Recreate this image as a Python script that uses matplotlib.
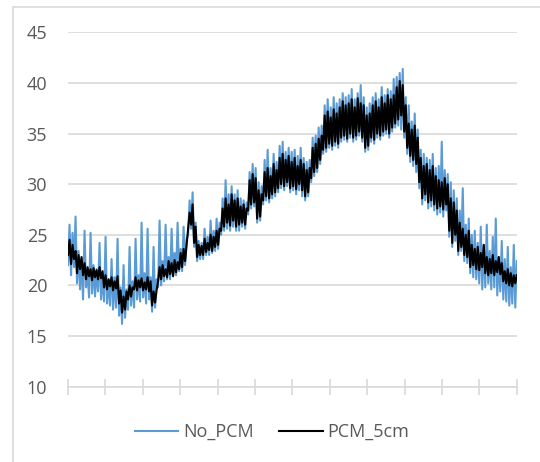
import numpy as np
import matplotlib
matplotlib.use("Agg")
import matplotlib.pyplot as plt
from matplotlib.patches import Rectangle

plt.rcParams['font.family'] = ['Open Sans', 'DejaVu Sans']

# readings along the time axis (300 samples, noisy)
no_pcm = [
    22.0, 26.0, 21.0, 25.2, 21.8, 26.8, 20.2, 23.4, 19.6, 22.6, 18.6, 25.4, 19.8, 21.4, 18.8, 25.2, 19.2, 22.0, 18.9, 21.6,
    19.4, 24.2, 18.6, 21.0, 18.4, 24.8, 18.2, 20.6, 18.0, 22.6, 17.6, 20.8, 17.8, 24.6, 17.0, 19.8, 16.2, 22.0, 16.8, 19.6,
    17.6, 23.8, 18.0, 20.4, 17.8, 24.6, 18.6, 21.0, 18.4, 26.2, 18.8, 21.2, 18.2, 25.6, 18.6, 20.8, 17.4, 23.8, 17.8, 20.6,
    19.8, 26.4, 20.0, 22.4, 20.4, 26.0, 20.6, 22.8, 20.6, 25.6, 21.0, 23.2, 21.0, 26.2, 21.4, 23.6, 21.4, 25.8, 22.0, 24.6,
    25.0, 28.4, 25.6, 29.2, 23.8, 26.2, 22.4, 24.4, 22.6, 24.2, 22.6, 25.6, 23.0, 24.8, 23.0, 26.4, 23.2, 25.4, 23.4, 26.6,
    23.6, 26.2, 25.0, 28.6, 25.4, 30.4, 25.6, 29.0, 25.4, 29.8, 25.8, 29.0, 25.4, 29.4, 25.4, 28.6, 25.8, 28.4, 25.6, 28.2,
    27.0, 31.2, 27.6, 32.0, 27.8, 31.6, 26.2, 30.2, 26.4, 29.8, 28.0, 32.4, 28.4, 33.4, 28.2, 31.6, 28.6, 33.0, 28.8, 32.2,
    29.2, 33.8, 29.6, 34.2, 29.4, 33.2, 29.8, 33.6, 29.2, 33.2, 29.4, 33.4, 29.0, 32.8, 29.4, 33.6, 28.8, 32.6, 28.4, 32.2,
    28.8, 32.4, 30.2, 34.6, 30.8, 34.8, 31.2, 35.6, 32.0, 35.8, 33.0, 37.8, 33.2, 38.4, 33.6, 37.6, 33.4, 38.6, 33.8, 38.0,
    33.6, 38.4, 34.2, 39.0, 34.4, 38.6, 34.2, 38.8, 34.6, 39.4, 34.2, 38.4, 34.4, 39.0, 34.8, 39.8, 34.2, 38.6, 33.2, 37.6,
    33.4, 38.0, 34.2, 38.6, 34.0, 39.0, 34.6, 38.4, 34.4, 39.6, 34.8, 38.8, 35.0, 39.4, 34.6, 39.2, 35.2, 40.4, 35.6, 40.6,
    35.8, 41.0, 35.4, 41.4, 34.6, 38.6, 33.0, 37.8, 32.2, 36.2, 31.8, 37.0, 31.2, 35.4, 29.6, 33.4, 28.0, 33.0, 28.4, 32.6,
    27.6, 32.4, 27.8, 33.0, 27.4, 31.6, 27.0, 31.8, 27.2, 34.2, 26.8, 31.4, 27.4, 31.0, 24.8, 30.2, 23.8, 29.4, 24.4, 28.6,
    23.0, 27.4, 23.4, 29.6, 22.4, 26.0, 22.2, 26.6, 21.2, 25.0, 20.8, 25.4, 20.6, 24.2, 20.2, 25.8, 19.6, 24.0, 19.8, 26.0,
    20.2, 23.4, 19.6, 24.8, 19.8, 26.6, 19.0, 22.8, 19.4, 24.4, 18.6, 22.6, 18.4, 23.8, 18.0, 21.8, 18.2, 24.0, 17.8, 22.4,
]

pcm_5cm = [
    23.0, 24.5, 22.1, 24.0, 22.6, 23.4, 21.2, 23.0, 21.6, 22.8, 21.0, 22.2, 20.6, 21.8, 20.9, 21.6, 20.5, 21.7, 20.8, 21.5,
    20.6, 21.8, 20.7, 21.4, 19.8, 21.0, 19.6, 20.6, 19.9, 20.8, 19.5, 20.4, 19.7, 20.9, 18.2, 19.5, 17.3, 18.9, 17.6, 19.4,
    18.6, 20.0, 18.9, 19.8, 19.6, 20.8, 19.5, 20.5, 19.8, 20.7, 19.5, 20.3, 19.6, 20.8, 19.4, 20.4, 18.0, 19.4, 18.3, 19.5,
    20.4, 21.8, 20.6, 22.0, 20.9, 21.6, 20.8, 22.4, 21.1, 22.2, 20.9, 22.5, 21.3, 22.3, 21.6, 23.2, 21.8, 23.6, 22.4, 24.0,
    25.6, 27.2, 26.0, 28.0, 24.2, 25.8, 22.8, 24.0, 23.0, 23.9, 23.0, 24.6, 23.3, 24.2, 23.5, 25.0, 23.4, 24.8, 23.8, 25.4,
    24.0, 25.6, 25.4, 27.6, 25.8, 28.6, 26.2, 28.0, 25.9, 29.0, 26.4, 28.4, 25.8, 28.6, 26.0, 27.8, 26.2, 28.0, 26.0, 27.6,
    27.4, 30.4, 28.0, 31.0, 28.2, 30.6, 26.6, 29.4, 26.8, 29.0, 28.4, 31.2, 28.8, 31.6, 28.6, 30.8, 29.0, 32.0, 29.2, 31.4,
    29.6, 32.6, 30.0, 33.0, 29.8, 32.4, 30.2, 32.8, 29.6, 32.2, 29.8, 32.6, 29.5, 31.8, 30.0, 32.4, 29.4, 32.0, 28.8, 31.4,
    29.2, 31.6, 30.6, 33.6, 31.2, 34.0, 31.6, 34.5, 32.4, 34.8, 33.4, 36.8, 33.6, 37.2, 34.0, 36.6, 33.8, 37.4, 34.2, 37.0,
    34.0, 37.6, 34.6, 38.2, 34.8, 37.8, 34.5, 38.0, 35.0, 38.4, 34.6, 37.6, 34.8, 38.5, 35.2, 38.0, 34.6, 37.8, 33.6, 36.8,
    33.8, 37.0, 34.6, 37.8, 34.4, 38.2, 35.0, 37.6, 34.8, 38.6, 35.2, 38.0, 35.4, 38.8, 35.0, 38.4, 35.6, 38.8, 36.0, 39.6,
    36.4, 40.2, 36.8, 39.8, 35.2, 37.8, 33.6, 36.0, 32.8, 35.4, 32.4, 35.8, 32.0, 34.6, 30.2, 32.6, 28.6, 31.8, 29.0, 32.0,
    28.2, 31.4, 28.4, 31.8, 28.0, 30.8, 27.6, 30.4, 27.8, 30.2, 27.5, 30.6, 28.0, 30.0, 25.4, 28.6, 24.2, 28.2, 25.0, 27.4,
    23.4, 26.2, 23.8, 25.6, 23.0, 25.0, 22.8, 25.4, 21.8, 24.0, 22.0, 23.6, 21.6, 23.8, 21.5, 23.2, 21.8, 24.0, 21.2, 22.8,
    21.0, 22.6, 21.2, 23.0, 21.0, 22.4, 21.3, 22.8, 21.1, 22.2, 20.4, 21.4, 20.2, 21.6, 20.0, 21.2, 19.9, 21.0, 20.2, 21.0,
]

x = np.arange(len(pcm_5cm))
grid_c = '#d9d9d9'
txt_c = '#595959'

fig = plt.figure(figsize=(5.4, 4.62), dpi=100)
ax = fig.add_axes([0.126, 0.1634, 0.831, 0.7663])

ax.plot(x, no_pcm, color='#5b9bd5', lw=1.5, label='No_PCM')
ax.plot(x, pcm_5cm, color='black', lw=1.5, label='PCM_5cm')

ax.set_xlim(0, len(x) - 1)
ax.set_ylim(10, 45)
ax.set_yticks(range(10, 46, 5))
ax.set_xticks(np.linspace(0, len(x) - 1, 13))
ax.set_xticklabels([])
ax.yaxis.grid(True, color=grid_c, lw=1.2)
ax.set_axisbelow(True)

for s in ['top', 'right', 'left']:
    ax.spines[s].set_visible(False)
ax.spines['bottom'].set_color(grid_c)
ax.spines['bottom'].set_linewidth(1.2)
ax.tick_params(axis='x', direction='inout', length=11, color=grid_c, width=1.2)
ax.tick_params(axis='y', length=0, pad=15, labelsize=13, labelcolor=txt_c)

fig.legend(loc='center', bbox_to_anchor=(0.504, 0.065), ncol=2, frameon=False,
           fontsize=13, labelcolor=txt_c, handlelength=2.4, columnspacing=1.4,
           handletextpad=0.28)

fig.patches.append(Rectangle((0.024, -0.2), 1.2, 1.185, transform=fig.transFigure,
                             fill=False, edgecolor=grid_c, lw=1.2))

fig.savefig('out.png', dpi=100)
